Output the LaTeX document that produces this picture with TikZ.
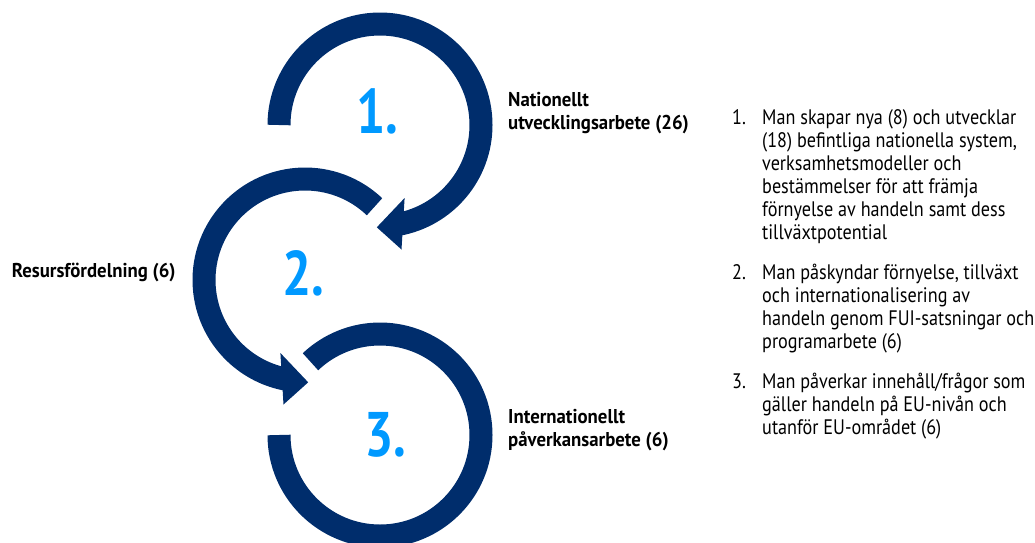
\documentclass[tikz,border=0pt]{standalone}
\usepackage{fontspec}
\setmainfont{PT Sans}[FakeStretch=0.865]
\newfontfamily\lblfont{PT Sans}[FakeStretch=0.94]
\newfontfamily\numfont{PT Sans}[FakeStretch=0.82]
\definecolor{ringnavy}{RGB}{0,45,108}
\definecolor{numblue}{RGB}{0,153,255}
\begin{document}
\begin{tikzpicture}[x=1pt,y=-1pt,
  ring/.style={draw=ringnavy, line width=23pt},
  head/.style={fill=ringnavy},
  num/.style={text=numblue, font=\numfont\fontsize{63}{63}\selectfont\bfseries, inner sep=0pt, anchor=base},
  lbl/.style={font=\lblfont\fontsize{20}{23}\selectfont\bfseries, inner sep=0pt, anchor=base west, align=left, text=black},
  itemtext/.style={font=\fontsize{21}{23}\selectfont, inner sep=0pt, anchor=base west, align=left, text=black}]
\useasboundingbox (0,0) rectangle (1035,542);
\clip (0,0) rectangle (1035,542);
\coordinate (c1) at (380,125);
\coordinate (c2) at (305,280);
\coordinate (c3) at (380,435);
% ring 1
\draw[ring] (c1) ++(180:101) arc[start angle=180, end angle=440, radius=101];
\fill[head] ([shift={(24.6,73)}]c1) -- ([shift={(-3.2,102.3)}]c1) -- ([shift={(21.5,124.5)}]c1) -- cycle;
% ring 2
\draw[ring] (c2) ++(-46.5:101) arc[start angle=-46.5, end angle=-260, radius=101];
\fill[head] ([shift={(-24.6,73)}]c2) -- ([shift={(3.2,102.3)}]c2) -- ([shift={(-21.5,124.5)}]c2) -- cycle;
% ring 3
\draw[ring] (c3) ++(180:101) arc[start angle=180, end angle=-133.5, radius=101];
% numbers
\node[num] (n1) at (377,133.5) {1.};
\node[num] (n2) at (303,295) {2.};
\node[num] (n3) at (385.5,456) {3.};
% labels (anchor base = baseline of last line)
\node[lbl] (l1) at (508,129.3) {Nationellt\\utvecklingsarbete (26)};
\node[lbl] (l2) at (11.7,277.3) {Resursfördelning (6)};
\node[lbl] (l3) at (508,446.7) {Internationellt\\påverkansarbete (6)};
% list
\node[itemtext] (i1n) at (732,124) {1.};
\node[itemtext] (i1) at (762,239) {Man skapar nya (8) och utvecklar\\(18) befintliga nationella system,\\verksamhetsmodeller och\\bestämmelser för att främja\\förnyelse av handeln samt dess\\tillväxtpotential};
\node[itemtext] (i2n) at (732,279) {2.};
\node[itemtext] (i2) at (762,348) {Man påskyndar förnyelse, tillväxt\\och internationalisering av\\handeln genom FUI-satsningar och\\programarbete (6)};
\node[itemtext] (i3n) at (732,388) {3.};
\node[itemtext] (i3) at (762,434) {Man påverkar innehåll/frågor som\\gäller handeln på EU-nivån och\\utanför EU-området (6)};
\end{tikzpicture}
\end{document}
